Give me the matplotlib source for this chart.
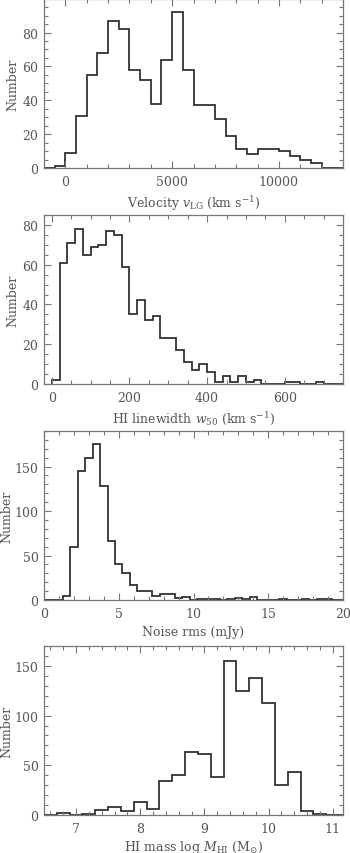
import matplotlib
matplotlib.use("Agg")
import matplotlib.pyplot as plt
import numpy as np
from matplotlib.ticker import MultipleLocator

# ---- data ----
vel_edges_start, vel_bin = -1000, 500
vel_counts = [0, 1, 9, 31, 55, 68, 87, 82, 58, 52, 38, 64, 92, 58, 37, 37, 29, 19,
              11, 8, 11, 11, 10, 7, 5, 3, 0, 0]

w50_edges_start, w50_bin = 0, 20
w50_counts = [2, 61, 71, 78, 65, 69, 70, 77, 75, 59, 35, 42, 32, 34, 23, 23, 17, 11,
              7, 10, 6, 1, 4, 1, 4, 1, 2, 0, 0, 0, 1, 1, 0, 0, 1, 0, 0, 0]

rms_edges_start, rms_bin = -0.25, 0.5
rms_counts = [0, 0, 0, 5, 60, 145, 160, 175, 128, 66, 40, 30, 17, 10, 10, 4, 7, 7,
              2, 3, 0, 1, 1, 1, 0, 1, 2, 1, 3, 0, 0, 0, 1, 0, 0, 1, 0, 1, 1, 0, 0]

mass_edges_start, mass_bin = 6.5, 0.2
mass_counts = [0, 2, 0, 1, 5, 8, 4, 13, 6, 34, 40, 63, 61, 38, 155, 125, 138, 113,
               30, 43, 4, 1, 0, 0]

panels = [
    dict(counts=vel_counts, start=vel_edges_start, width=vel_bin,
         xlim=(-1000, 13000), ylim=(0, 99.8), xmaj=5000, xmin=1000, ymaj=20, ymin=5,
         xlabel=r"Velocity $v_{\rm LG}$ (km s$^{-1}$)", ylab_right=19, xlpad=4),
    dict(counts=w50_counts, start=w50_edges_start, width=w50_bin,
         xlim=(-20, 750), ylim=(0, 85), xmaj=200, xmin=50, ymaj=20, ymin=5,
         xlabel=r"HI linewidth $w_{50}$ (km s$^{-1}$)", ylab_right=19, xlpad=4),
    dict(counts=rms_counts, start=rms_edges_start, width=rms_bin,
         xlim=(0, 20), ylim=(0, 190), xmaj=5, xmin=1, ymaj=50, ymin=10,
         xlabel="Noise rms (mJy)", ylab_right=13.5, xlpad=4),
    dict(counts=mass_counts, start=mass_edges_start, width=mass_bin,
         xlim=(6.5, 11.16), ylim=(0, 170), xmaj=1, xmin=0.2, ymaj=50, ymin=10,
         xlabel=r"HI mass log $M_{\rm HI}$ (M$_{\odot}$)", ylab_right=13.5, xlpad=2),
]

plt.rcParams['font.family'] = ['DejaVu Serif']
plt.rcParams['mathtext.fontset'] = 'dejavuserif'
textc = '#555555'
axc = '#777777'

fig = plt.figure(figsize=(3.5, 8.54), dpi=100)
bottoms_px = [169, 385, 601, 816]
H = 169
W = 343 - 44
for p, b in zip(panels, bottoms_px):
    ax = fig.add_axes([44/350, 1 - b/854, W/350, H/854])
    counts = np.array(p['counts'], dtype=float)
    edges = p['start'] + p['width'] * np.arange(len(counts) + 1)
    ax.stairs(counts, edges, color='#333333', lw=1.3, baseline=0)
    ax.set_xlim(*p['xlim'])
    ax.set_ylim(*p['ylim'])
    ax.xaxis.set_major_locator(MultipleLocator(p['xmaj']))
    ax.xaxis.set_minor_locator(MultipleLocator(p['xmin']))
    ax.yaxis.set_major_locator(MultipleLocator(p['ymaj']))
    ax.yaxis.set_minor_locator(MultipleLocator(p['ymin']))
    ax.tick_params(which='both', direction='in', top=True, right=True,
                   color=axc, labelcolor=textc, labelsize=9, width=0.8)
    ax.tick_params(which='major', length=5)
    ax.tick_params(which='minor', length=3)
    ax.tick_params(axis='x', pad=5)
    ax.tick_params(axis='y', pad=4)
    for s in ax.spines.values():
        s.set_color(axc)
        s.set_linewidth(0.9)
    ax.set_xlabel(p['xlabel'], color=textc, fontsize=9, labelpad=p['xlpad'])
    ax.set_ylabel("Number", color=textc, fontsize=9)
    ax.yaxis.set_label_coords((p['ylab_right'] - 44) / W, 0.5)

fig.savefig("out.png", dpi=100)
